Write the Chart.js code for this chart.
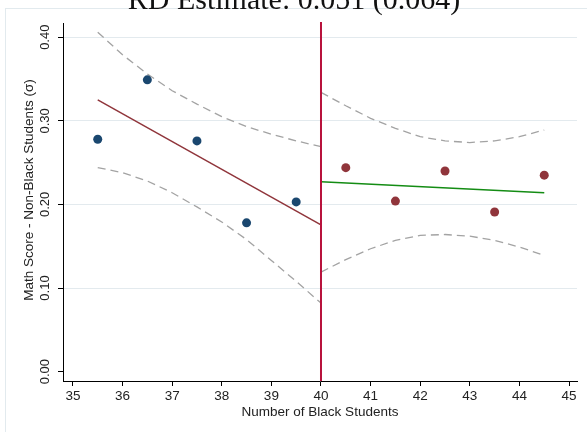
<!DOCTYPE html>
<html>
<head>
<meta charset="utf-8">
<script src="https://cdn.jsdelivr.net/npm/chart.js@4.4.1/dist/chart.umd.min.js"></script>
<style>
  html, body { margin: 0; padding: 0; background: #fff; }
  #rdChart { display: block; }
</style>
</head>
<body>
<canvas id="rdChart" width="587" height="432"></canvas>
<script>
// bin means on each side of the cutoff
const leftBinX = [35.5, 36.5, 37.5, 38.5, 39.5];
const leftBinY = [0.278, 0.349, 0.276, 0.178, 0.203];
const rightBinX = [40.5, 41.5, 42.5, 43.5, 44.5];
const rightBinY = [0.244, 0.204, 0.240, 0.191, 0.235];

// linear fits
const leftFitX = [35.5, 40];
const leftFitY = [0.325, 0.1755];
const rightFitX = [40, 44.5];
const rightFitY = [0.227, 0.214];

// confidence bands
const leftBandX = [35.5, 36, 36.5, 37, 37.5, 38, 38.5, 39, 39.5, 40];
const leftUpper = [0.406, 0.379, 0.356, 0.336, 0.320, 0.305, 0.293, 0.284, 0.276, 0.269];
const leftLower = [0.244, 0.238, 0.228, 0.214, 0.197, 0.179, 0.158, 0.133, 0.108, 0.082];
const rightBandX = [40, 40.5, 41, 41.5, 42, 42.5, 43, 43.5, 44, 44.5];
const rightUpper = [0.334, 0.318, 0.303, 0.291, 0.281, 0.276, 0.274, 0.276, 0.281, 0.289];
const rightLower = [0.119, 0.134, 0.147, 0.157, 0.163, 0.164, 0.162, 0.157, 0.149, 0.139];

const cutoff = 40;
const xTicks = [35, 36, 37, 38, 39, 40, 41, 42, 43, 44, 45];
const yTicks = [0, 0.1, 0.2, 0.3, 0.4];

const titleText = "RD Estimate: 0.051 (0.064)";
const xTitle = "Number of Black Students";
const yTitle = "Math Score - Non-Black Students (\u03C3)";

const pts = (xs, ys) => xs.map((x, i) => ({ x: x, y: ys[i] }));

const band = (xs, ys) => ({
    data: pts(xs, ys),
    showLine: true,
    borderColor: "#a3a3a3",
    borderWidth: 1.3,
    borderDash: [8, 5],
    pointRadius: 0,
    fill: false,
    order: 4
});

const fit = (xs, ys, color) => ({
    data: pts(xs, ys),
    showLine: true,
    borderColor: color,
    borderWidth: 1.5,
    pointRadius: 0,
    fill: false,
    order: 3
});

const bins = (xs, ys, color) => ({
    data: pts(xs, ys),
    showLine: false,
    backgroundColor: color,
    borderColor: color,
    borderWidth: 0,
    pointRadius: 4.5,
    order: 2
});

const sansFont = "'Liberation Sans', Arial, sans-serif";

// cutoff line, rotated y tick labels, axis titles and frame
const decorations = {
    id: "decorations",
    afterDatasetsDraw(chart) {
        const { ctx, chartArea, scales } = chart;
        const px = scales.x.getPixelForValue(cutoff);
        ctx.save();
        ctx.strokeStyle = "#b8123c";
        ctx.lineWidth = 2;
        ctx.beginPath();
        ctx.moveTo(px, chartArea.top - 1);
        ctx.lineTo(px, chartArea.bottom);
        ctx.stroke();
        ctx.restore();
    },
    afterDraw(chart) {
        const { ctx, chartArea, scales } = chart;
        ctx.save();

        ctx.strokeStyle = "#e2eaee";
        ctx.lineWidth = 1;
        ctx.strokeRect(5.5, 8.5, 700, 600);

        ctx.fillStyle = "#222";
        ctx.font = "13px " + sansFont;
        ctx.textAlign = "center";
        ctx.textBaseline = "middle";
        yTicks.forEach(v => {
            const py = scales.y.getPixelForValue(v);
            ctx.save();
            ctx.translate(45, py);
            ctx.rotate(-Math.PI / 2);
            ctx.fillText(v.toFixed(2), 0, 0);
            ctx.restore();
        });

        ctx.font = "13.5px " + sansFont;
        ctx.save();
        ctx.translate(29.5, 190);
        ctx.rotate(-Math.PI / 2);
        ctx.fillText(yTitle, 0, 0);
        ctx.restore();

        ctx.fillText(xTitle, (chartArea.left + chartArea.right) / 2, 412);

        ctx.fillStyle = "#111";
        ctx.font = "30px 'Liberation Serif', 'Times New Roman', serif";
        ctx.textBaseline = "alphabetic";
        ctx.fillText(titleText, 294, 9);

        ctx.restore();
    }
};

new Chart(document.getElementById("rdChart").getContext("2d"), {
    type: "scatter",
    data: {
        datasets: [
            bins(leftBinX, leftBinY, "#1a476f"),
            bins(rightBinX, rightBinY, "#90353b"),
            fit(leftFitX, leftFitY, "#90353b"),
            fit(rightFitX, rightFitY, "#148c14"),
            band(leftBandX, leftUpper),
            band(leftBandX, leftLower),
            band(rightBandX, rightUpper),
            band(rightBandX, rightLower)
        ]
    },
    options: {
        responsive: false,
        animation: false,
        events: [],
        layout: { padding: { left: 0, top: 23, right: 10, bottom: 0 } },
        plugins: {
            legend: { display: false },
            tooltip: { enabled: false },
            title: { display: false }
        },
        scales: {
            x: {
                type: "linear",
                min: 34.8,
                max: 45.16,
                afterBuildTicks: s => { s.ticks = xTicks.map(v => ({ value: v })); },
                afterFit: s => { s.height = 51; },
                border: { display: true, color: "#000", width: 1 },
                grid: { drawOnChartArea: false, tickLength: 5, tickColor: "#000", tickWidth: 1 },
                ticks: {
                    autoSkip: false,
                    maxRotation: 0,
                    padding: 2,
                    color: "#222",
                    font: { family: sansFont, size: 13.5 },
                    callback: v => String(v)
                }
            },
            y: {
                type: "linear",
                min: -0.0112,
                max: 0.417,
                afterBuildTicks: s => { s.ticks = yTicks.map(v => ({ value: v })); },
                afterFit: s => { s.width = 63; },
                border: { display: true, color: "#000", width: 1 },
                grid: {
                    color: c => (c.tick && c.tick.value === 0 ? "rgba(0,0,0,0)" : "#e3eaee"),
                    lineWidth: 1,
                    tickLength: 5,
                    tickColor: "#000",
                    tickWidth: 1
                },
                ticks: { display: false }
            }
        }
    },
    plugins: [decorations]
});
</script>
</body>
</html>
